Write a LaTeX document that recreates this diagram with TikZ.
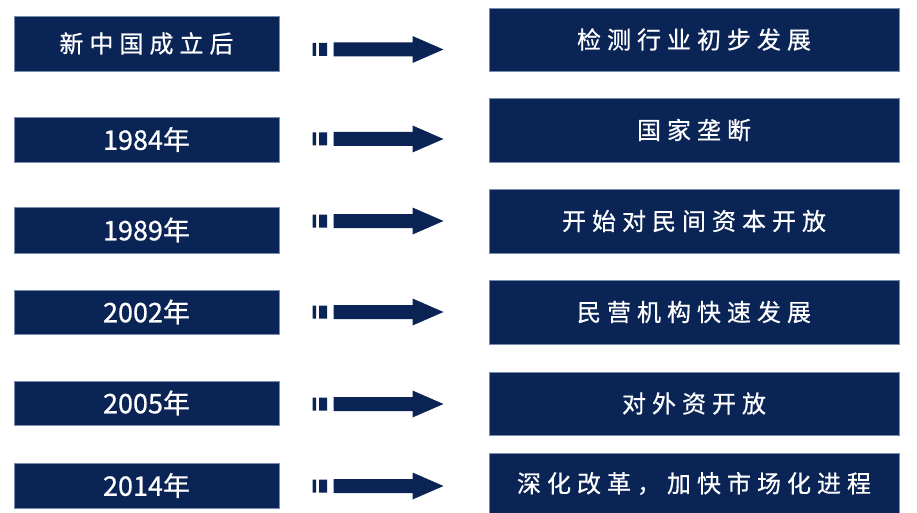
\documentclass[tikz,border=0pt]{standalone}
\usepackage{fontspec}
\setmainfont{Noto Sans CJK SC}[FakeBold=0.6]
\newfontfamily\cnfont[LetterSpace=25,FakeBold=0.6]{Noto Sans CJK SC}
\definecolor{navy}{RGB}{10,36,86}
\definecolor{edgeblue}{RGB}{120,140,175}
\begin{document}
\begin{tikzpicture}[x=1pt,y=-1pt,
  basebox/.style={fill=navy, draw=edgeblue, line width=0.5pt, inner sep=0pt, text=white, anchor=center},
  lbox/.style={basebox, minimum width=265pt},
  rbox/.style={basebox, minimum width=410pt},
  cntext/.style={font=\cnfont\fontsize{24}{26}\selectfont},
  yeartext/.style={font=\fontsize{27}{29}\selectfont},
  flowarrow/.pic={
    \fill[navy] (0,-6.5) rectangle (3.5,6.5) (6.5,-6.5) rectangle (14.5,6.5)
      (21,-7) -- (100,-7) -- (100,-13.5) -- (131,0) -- (100,13.5) -- (100,7) -- (21,7) -- cycle;
  }]
\useasboundingbox (0,0) rectangle (917,513);
% left column
\node[lbox, minimum height=55pt, cntext] (l1) at (146.5,43.5) {新中国成立后};
\node[lbox, minimum height=45pt, yeartext] (l2) at (146.5,139.5) {1984年};
\node[lbox, minimum height=46pt, yeartext] (l3) at (146.5,230) {1989年};
\node[lbox, minimum height=44pt, yeartext] (l4) at (146.5,312) {2002年};
\node[lbox, minimum height=44pt, yeartext] (l5) at (146.5,403) {2005年};
\node[lbox, minimum height=45pt, yeartext] (l6) at (146.5,485.5) {2014年};
% right column
\node[rbox, minimum height=63pt, cntext] (r1) at (694,39.5) {检测行业初步发展};
\node[rbox, minimum height=64pt, cntext] (r2) at (694,130) {国家垄断};
\node[rbox, minimum height=64pt, cntext] (r3) at (694,221) {开始对民间资本开放};
\node[rbox, minimum height=64pt, cntext] (r4) at (694,312) {民营机构快速发展};
\node[rbox, minimum height=63pt, cntext] (r5) at (694,403.5) {对外资开放};
\node[rbox, minimum height=61pt, cntext] (r6) at (694,483.5) {深化改革，加快市场化进程};
% arrows
\coordinate (a1) at (312.5,49.5);
\coordinate (a2) at (312.5,139);
\coordinate (a3) at (312.5,221);
\coordinate (a4) at (312.5,312);
\coordinate (a5) at (312.5,404);
\coordinate (a6) at (312.5,486);
\foreach \i in {1,...,6}{ \pic at (a\i) {flowarrow}; }
\end{tikzpicture}
\end{document}
